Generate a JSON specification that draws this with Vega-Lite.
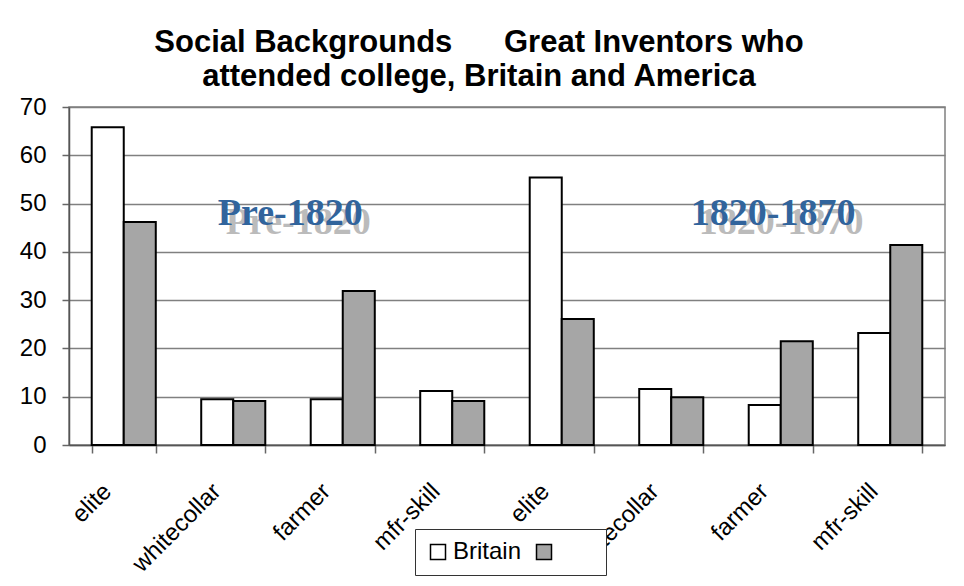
{
  "$schema": "https://vega.github.io/schema/vega-lite/v6.json",
  "width": 876,
  "height": 338,
  "autosize": "none",
  "padding": {"left": 69, "top": 107, "right": 19, "bottom": 141},
  "background": "white",
  "title": {
    "text": ["Social Backgrounds\u00a0\u00a0\u00a0\u00a0\u00a0\u00a0Great Inventors who", "attended college, Britain and America"],
    "font": "Liberation Sans",
    "fontSize": 31,
    "fontWeight": "bold",
    "color": "black",
    "lineHeight": 34,
    "offset": 2,
    "dx": -28,
    "anchor": "middle"
  },
  "config": {
    "view": {"stroke": "#808080", "strokeWidth": 1.5},
    "axis": {"labelFont": "Liberation Sans", "labelColor": "black"}
  },
  "datasets": {
    "bars": [
      {"slot": 1, "period": "Pre-1820", "category": "elite", "series": "Britain", "value": 65.8},
      {"slot": 1, "period": "Pre-1820", "category": "elite", "series": "America", "value": 46.2},
      {"slot": 2, "period": "Pre-1820", "category": "whitecollar", "series": "Britain", "value": 9.5},
      {"slot": 2, "period": "Pre-1820", "category": "whitecollar", "series": "America", "value": 9.1},
      {"slot": 3, "period": "Pre-1820", "category": "farmer", "series": "Britain", "value": 9.5},
      {"slot": 3, "period": "Pre-1820", "category": "farmer", "series": "America", "value": 31.9},
      {"slot": 4, "period": "Pre-1820", "category": "mfr-skill", "series": "Britain", "value": 11.2},
      {"slot": 4, "period": "Pre-1820", "category": "mfr-skill", "series": "America", "value": 9.1},
      {"slot": 5, "period": "1820-1870", "category": "elite", "series": "Britain", "value": 55.4},
      {"slot": 5, "period": "1820-1870", "category": "elite", "series": "America", "value": 26.1},
      {"slot": 6, "period": "1820-1870", "category": "whitecollar", "series": "Britain", "value": 11.6},
      {"slot": 6, "period": "1820-1870", "category": "whitecollar", "series": "America", "value": 9.9},
      {"slot": 7, "period": "1820-1870", "category": "farmer", "series": "Britain", "value": 8.3},
      {"slot": 7, "period": "1820-1870", "category": "farmer", "series": "America", "value": 21.5},
      {"slot": 8, "period": "1820-1870", "category": "mfr-skill", "series": "Britain", "value": 23.2},
      {"slot": 8, "period": "1820-1870", "category": "mfr-skill", "series": "America", "value": 41.4}
    ],
    "pre": [{"label": "Pre-1820", "slot": 2, "level": 45.6}],
    "post": [{"label": "1820-1870", "slot": 7, "level": 45.6}]
  },
  "layer": [
    {
      "data": {"name": "bars"},
      "mark": {"type": "bar", "stroke": "black", "strokeWidth": 2},
      "encoding": {
        "x": {
          "field": "slot",
          "type": "ordinal",
          "scale": {"paddingInner": 0.415, "paddingOuter": 0.2075},
          "axis": {
            "title": null,
            "labelExpr": "datum.value >= 1 && datum.value <= 8 ? (datum.value % 4 == 1 ? 'elite' : (datum.value % 4 == 2 ? 'whitecollar' : (datum.value % 4 == 3 ? 'farmer' : 'mfr-skill'))) : ''",
            "labelAngle": -45,
            "labelAlign": "right",
            "labelBaseline": "bottom",
            "labelFontSize": 24,
            "labelPadding": 43,
            "labelOffset": -8,
            "labelOverlap": false,
            "labelFlush": false,
            "tickBand": "extent",
            "tickSize": 8,
            "tickColor": "#666666",
            "tickWidth": 1.5,
            "domainColor": "#555555",
            "domainWidth": 1.5,
            "grid": false
          }
        },
        "xOffset": {"field": "series", "type": "nominal", "sort": ["Britain", "America"]},
        "y": {
          "field": "value",
          "type": "quantitative",
          "scale": {"domain": [0, 70], "nice": false},
          "axis": {
            "title": null,
            "values": [0, 10, 20, 30, 40, 50, 60, 70],
            "labelFontSize": 24,
            "labelPadding": 16,
            "tickSize": 7,
            "tickColor": "#666666",
            "tickWidth": 1.5,
            "domainColor": "#555555",
            "domainWidth": 1.5,
            "grid": true,
            "gridColor": "#808080",
            "gridWidth": 1.5
          }
        },
        "fill": {
          "field": "series",
          "type": "nominal",
          "sort": ["Britain", "America"],
          "scale": {"domain": ["Britain", "America"], "range": ["#ffffff", "#a6a6a6"]},
          "legend": {
            "title": null,
            "orient": "none",
            "legendX": 346,
            "legendY": 422,
            "direction": "horizontal",
            "fillColor": "white",
            "strokeColor": "#333333",
            "padding": 11,
            "symbolType": "square",
            "symbolSize": 225,
            "symbolStrokeColor": "black",
            "symbolStrokeWidth": 1.5,
            "symbolOpacity": 1,
            "labelFont": "Liberation Sans",
            "labelFontSize": 24,
            "labelColor": "black",
            "labelOffset": 3,
            "columnPadding": 10,
            "labelExpr": "datum.label == 'America' ? '\u2800\u2800' : datum.label",
            "zindex": 1
          }
        }
      }
    },
    {
      "data": {"name": "pre"},
      "mark": {"type": "text", "font": "Liberation Serif", "fontWeight": "bold", "fontSize": 38, "color": "#bbbbbb", "dx": 8, "dy": 9, "align": "center", "baseline": "alphabetic"},
      "encoding": {
        "x": {"field": "slot", "type": "ordinal", "bandPosition": 1.39},
        "y": {"field": "level", "type": "quantitative"},
        "text": {"field": "label"}
      }
    },
    {
      "data": {"name": "pre"},
      "mark": {"type": "text", "font": "Liberation Serif", "fontWeight": "bold", "fontSize": 38, "color": "#31649c", "align": "center", "baseline": "alphabetic"},
      "encoding": {
        "x": {"field": "slot", "type": "ordinal", "bandPosition": 1.39},
        "y": {"field": "level", "type": "quantitative"},
        "text": {"field": "label"}
      }
    },
    {
      "data": {"name": "post"},
      "mark": {"type": "text", "font": "Liberation Serif", "fontWeight": "bold", "fontSize": 38, "color": "#bbbbbb", "dx": 8, "dy": 9, "align": "center", "baseline": "alphabetic"},
      "encoding": {
        "x": {"field": "slot", "type": "ordinal", "bandPosition": 0.38},
        "y": {"field": "level", "type": "quantitative"},
        "text": {"field": "label"}
      }
    },
    {
      "data": {"name": "post"},
      "mark": {"type": "text", "font": "Liberation Serif", "fontWeight": "bold", "fontSize": 38, "color": "#31649c", "align": "center", "baseline": "alphabetic"},
      "encoding": {
        "x": {"field": "slot", "type": "ordinal", "bandPosition": 0.38},
        "y": {"field": "level", "type": "quantitative"},
        "text": {"field": "label"}
      }
    }
  ]
}
